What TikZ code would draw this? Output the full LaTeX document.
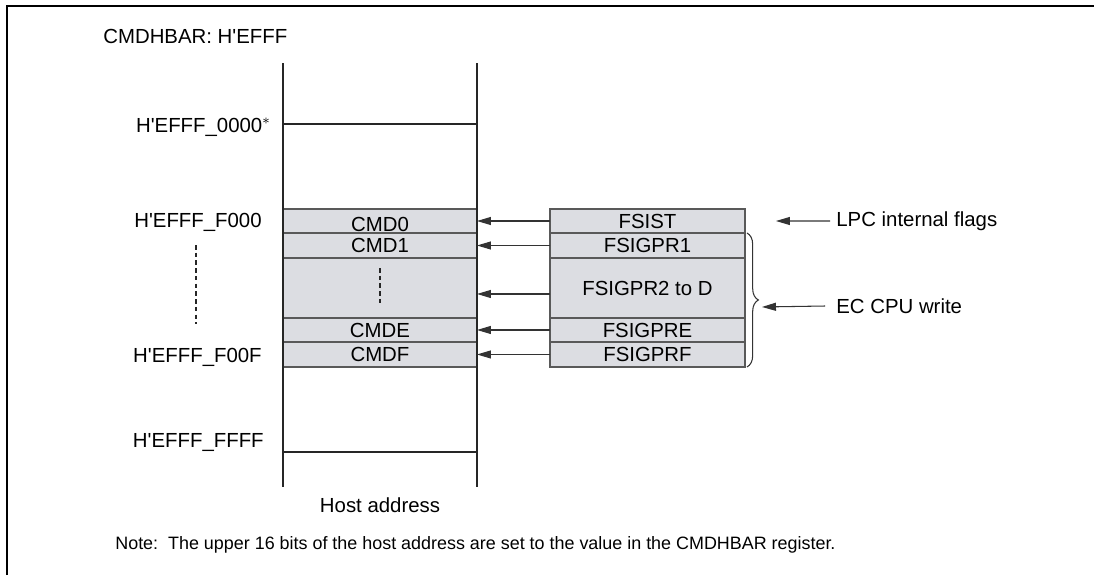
\documentclass[tikz,border=0pt]{standalone}
\usepackage{fontspec}
\newfontfamily\hfont{Liberation Sans}
\usepackage{tikz}
\usetikzlibrary{positioning,arrows.meta,decorations.pathreplacing}

\begin{document}
\begin{tikzpicture}[
  x=0.02cm, y=-0.02cm,
  font=\hfont\fontsize{11.6}{14}\selectfont,
  reg/.style={draw=black!65, line width=0.6pt, fill={rgb,255:red,220;green,221;blue,226}, minimum width=3.88cm, inner sep=0pt, outer sep=0pt, anchor=north west},
  lbl/.style={inner sep=0pt, anchor=east},
  txt/.style={inner sep=0pt, anchor=west},
  arr/.style={-{Triangle[length=0.28cm,width=0.16cm]}, black!80, line width=0.6pt},
  col/.style={line width=1.3pt, black!85},
  dots/.style={line width=1.6pt, black!85, dash pattern=on 2.6pt off 1.8pt}]

\useasboundingbox (0,0) rectangle (1094,575);
\draw[line width=0.04cm] (7,575) -- (7,6) -- (1094,6);

\node[txt] (bar) at (103,36) {CMDHBAR: H'EFFF};

% host address map
\node[reg, minimum height=0.48cm, text height=12.5pt] (cmd0) at (283,209) {CMD0};
\node[reg, minimum height=0.5cm, below=0pt of cmd0] (cmd1) {CMD1};
\node[reg, minimum height=1.2cm, below=0pt of cmd1] (cmdmid) {};
\node[reg, minimum height=0.48cm, below=0pt of cmdmid] (cmde) {CMDE};
\node[reg, minimum height=0.5cm, below=0pt of cmde] (cmdf) {CMDF};

\draw[col] (283,63) -- (283,487);
\draw[col] (477,63) -- (477,487);
\draw[col] (283,124) -- (477,124);
\draw[col, line width=1.6pt] (283,452) -- (477,452);
\draw[dots] (380,268) -- (380,305);

\node (host) at (380,505) {Host address};

% addresses
\node[lbl] (a0) at (271,127) {H'EFFF\_0000$^{\ast}$};
\node[lbl] (af0) at (262,222) {H'EFFF\_F000};
\node[lbl] (aff) at (262,357) {H'EFFF\_F00F};
\node[lbl] (afff) at (264,443) {H'EFFF\_FFFF};
\draw[dots] (196,245) -- (196,324);

% flag registers
\node[reg, minimum width=3.9cm, minimum height=0.48cm] (fsist) at (550,209) {FSIST};
\node[reg, minimum width=3.9cm, minimum height=0.5cm, below=0pt of fsist] (fsigpr1) {FSIGPR1};
\node[reg, minimum width=3.9cm, minimum height=1.2cm, below=0pt of fsigpr1] (fsigprmid) {FSIGPR2 to D};
\node[reg, minimum width=3.9cm, minimum height=0.48cm, below=0pt of fsigprmid] (fsigpre) {FSIGPRE};
\node[reg, minimum width=3.9cm, minimum height=0.5cm, below=0pt of fsigpre] (fsigprf) {FSIGPRF};

\draw[arr] (fsist.west) -- (cmd0.east);
\draw[arr] (fsigpr1.west) -- (cmd1.east);
\draw[arr] ([yshift=-0.12cm]fsigprmid.west) -- ([yshift=-0.12cm]cmdmid.east);
\draw[arr] (fsigpre.west) -- (cmde.east);
\draw[arr] (fsigprf.west) -- (cmdf.east);

\draw[decorate, decoration={brace, amplitude=6.5pt}, line width=0.6pt, black!80]
  ([xshift=0.04cm]fsigpr1.north east) -- ([xshift=0.04cm]fsigprf.south east)
  coordinate[midway, xshift=0.3cm] (brtip);

\node[txt] (lpc) at (836,221) {LPC internal flags};
\node[txt] (ecw) at (836,306) {EC CPU write};
\draw[arr] ([xshift=-0.12cm]lpc.west) -- ([xshift=0.62cm]fsist.east);
\draw[arr] ([xshift=-0.22cm]ecw.west) -- ([yshift=-0.14cm]brtip);

\node[txt, font=\hfont\fontsize{10.2}{12}\selectfont] (note) at (115,545) {Note:\ \ The upper 16 bits of the host address are set to the value in the CMDHBAR register.};
\end{tikzpicture}
\end{document}
